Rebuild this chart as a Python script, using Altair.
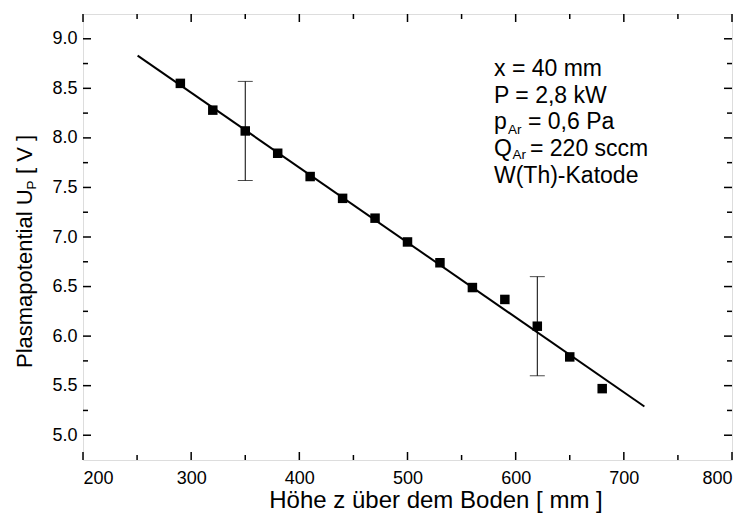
import altair as alt
import pandas as pd

# ---- data ----
z_mm = [290, 320, 350, 380, 410, 440, 470, 500, 530, 560, 590, 620, 650, 680]
u_p = [8.55, 8.28, 8.07, 7.845, 7.61, 7.39, 7.19, 6.95, 6.74, 6.49, 6.37, 6.10, 5.79, 5.47]

err_z = [350, 620]
err_lo = [7.57, 5.60]
err_hi = [8.57, 6.60]

fit_z = [250.5, 719.0]
fit_u = [8.83, 5.29]

x_major = [200, 300, 400, 500, 600, 700, 800]
x_minor = [250, 350, 450, 550, 650, 750]
y_major = [5.0, 5.5, 6.0, 6.5, 7.0, 7.5, 8.0, 8.5, 9.0]
y_minor = [5.25, 5.75, 6.25, 6.75, 7.25, 7.75, 8.25, 8.75]

x_domain = [200, 800]
y_domain = [4.75, 9.25]

FONT = "Liberation Sans"
W, H = 649, 446

xs = alt.Scale(domain=x_domain, nice=False, zero=False)
ys = alt.Scale(domain=y_domain, nice=False, zero=False)

pts = pd.DataFrame({"z": z_mm, "u": u_p})
errs = pd.DataFrame({"z": err_z, "lo": err_lo, "hi": err_hi})
fit = pd.DataFrame({"z": fit_z, "u": fit_u})

# axes (labels only)
base = alt.Chart(pts).mark_point(opacity=0).encode(
    x=alt.X("z:Q", scale=xs, axis=alt.Axis(values=x_major, format="d", title=None, ticks=False,
                                           domain=False, grid=False, labelFont=FONT, labelFontSize=18,
                                           labelColor="black", labelPadding=9)),
    y=alt.Y("u:Q", scale=ys, axis=alt.Axis(values=y_major, format=".1f", title=None, ticks=False,
                                           domain=False, grid=False, labelFont=FONT, labelFontSize=18,
                                           labelColor="black", labelPadding=6)),
)

fit_line = alt.Chart(fit).mark_line(color="black", strokeWidth=2).encode(
    x=alt.X("z:Q", scale=xs), y=alt.Y("u:Q", scale=ys))

err_rule = alt.Chart(errs).mark_rule(color="black", strokeWidth=1).encode(
    x=alt.X("z:Q", scale=xs), y=alt.Y("lo:Q", scale=ys), y2="hi:Q")
cap_lo = alt.Chart(errs).mark_tick(color="black", thickness=1, size=15, orient="horizontal").encode(
    x=alt.X("z:Q", scale=xs), y=alt.Y("lo:Q", scale=ys))
cap_hi = alt.Chart(errs).mark_tick(color="black", thickness=1, size=15, orient="horizontal").encode(
    x=alt.X("z:Q", scale=xs), y=alt.Y("hi:Q", scale=ys))

squares = alt.Chart(pts).mark_point(shape="square", filled=True, color="black", size=90, opacity=1).encode(
    x=alt.X("z:Q", scale=xs), y=alt.Y("u:Q", scale=ys))

# inward ticks on all four sides
def xticks(vals, length):
    df = pd.DataFrame({"t": vals})
    b = alt.Chart(df).mark_rule(color="black", strokeWidth=1.5).encode(
        x=alt.X("t:Q", scale=xs), y=alt.value(H), y2=alt.value(H - length))
    t = alt.Chart(df).mark_rule(color="black", strokeWidth=1.5).encode(
        x=alt.X("t:Q", scale=xs), y=alt.value(0), y2=alt.value(length))
    return [b, t]

def yticks(vals, length):
    df = pd.DataFrame({"t": vals})
    l = alt.Chart(df).mark_rule(color="black", strokeWidth=1.5).encode(
        y=alt.Y("t:Q", scale=ys), x=alt.value(0), x2=alt.value(length))
    r = alt.Chart(df).mark_rule(color="black", strokeWidth=1.5).encode(
        y=alt.Y("t:Q", scale=ys), x=alt.value(W), x2=alt.value(W - length))
    return [l, r]

tick_layers = xticks(x_major, 8) + xticks(x_minor, 5) + yticks(y_major, 8) + yticks(y_minor, 5)

def txt(s, x, y, size, angle=0, align="left"):
    return alt.Chart(pd.DataFrame({"s": [s]})).mark_text(
        font=FONT, fontSize=size, color="black", align=align, baseline="alphabetic", angle=angle
    ).encode(text="s:N", x=alt.value(x), y=alt.value(y))

AN = 23
SUB = 13.5
ax0 = 411
annot = [
    txt("x = 40 mm", ax0, 62, AN),
    txt("P = 2,8 kW", ax0, 88.5, AN),
    txt("p", ax0, 115, AN),
    txt("Ar", 425, 119.5, SUB),
    txt("= 0,6 Pa", 445, 115, AN),
    txt("Q", ax0, 141.5, AN),
    txt("Ar", 429.5, 145, SUB),
    txt("= 220 sccm", 447, 141.5, AN),
    txt("W(Th)-Katode", ax0, 168.5, AN),
]

titles = [
    txt("Höhe z über dem Boden [ mm ]", 353, 494, 24, align="center"),
    txt("Plasmapotential U", -51, 354, 22, angle=270),
    txt("P", -47, 175.5, SUB, angle=270),
    txt("[ V ]", -51, 160, 22, angle=270),
]

chart = alt.layer(base, fit_line, err_rule, cap_lo, cap_hi, squares, *tick_layers, *annot, *titles).properties(
    width=W, height=H,
    autosize=alt.AutoSizeParams(type="none"),
    padding={"left": 83, "top": 14, "right": 17, "bottom": 56},
).configure_view(stroke="black", strokeWidth=2).configure(background="white")

chart.save("out.html", embed_options={"renderer": "svg", "actions": False})
